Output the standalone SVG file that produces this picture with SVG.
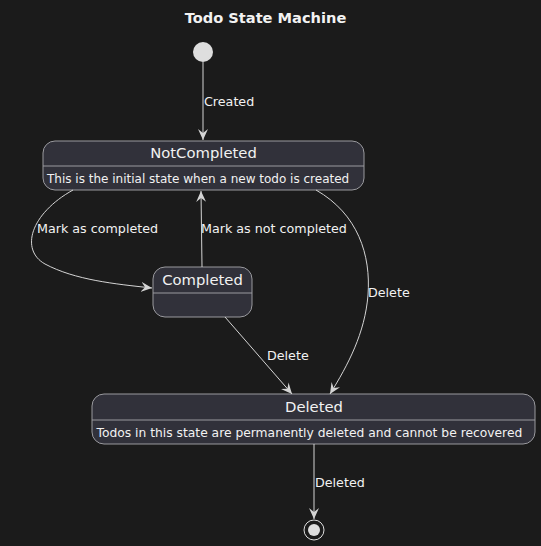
<svg xmlns="http://www.w3.org/2000/svg" width="541" height="546" viewBox="0 0 541 546">
<style>
text{font-family:"DejaVu Sans","Liberation Sans",sans-serif;fill:#f2f2f2}
.title{font-size:14.6px;font-weight:bold}
.name{font-size:14.8px}
.desc{font-size:12.3px}
.lbl{font-size:12.7px}
.box{fill:#31313a;stroke:#9a9a9e;stroke-width:1}
.sep{stroke:#9a9a9e;stroke-width:1}
.edge{fill:none;stroke:#d4d4d4;stroke-width:1}
</style>
<defs>
<marker id="arr" viewBox="0 0 12 10" markerWidth="12" markerHeight="10" refX="11" refY="5" orient="auto" markerUnits="userSpaceOnUse">
<path d="M0,0 L11,5 L0,10 L4,5 Z" fill="#d4d4d4"/>
</marker>
</defs>
<rect width="541" height="546" fill="#1b1b1b"/>
<text class="title" x="265.5" y="23" text-anchor="middle">Todo State Machine</text>
<g id="initial"><circle cx="203" cy="52" r="10" fill="#dedede"/></g>
<g id="NotCompleted">
<rect class="box" x="43" y="141" width="321" height="49" rx="12"/>
<line class="sep" x1="43" y1="166" x2="364" y2="166"/>
<text class="name" x="203.5" y="158" text-anchor="middle">NotCompleted</text>
<text class="desc" x="47" y="183" style="font-size:12px">This is the initial state when a new todo is created</text>
</g>
<g id="Completed">
<rect class="box" x="153" y="267" width="99" height="50" rx="12"/>
<line class="sep" x1="153" y1="293" x2="252" y2="293"/>
<text class="name" x="202.5" y="285" text-anchor="middle">Completed</text>
</g>
<g id="Deleted">
<rect class="box" x="92" y="394" width="443" height="50" rx="12"/>
<line class="sep" x1="92" y1="420" x2="535" y2="420"/>
<text class="name" x="314" y="412" text-anchor="middle">Deleted</text>
<text class="desc" x="96.5" y="437">Todos in this state are permanently deleted and cannot be recovered</text>
</g>
<g id="final">
<circle cx="314" cy="530" r="10" fill="none" stroke="#dedede" stroke-width="1"/>
<circle cx="314" cy="530" r="6" fill="#dedede"/>
</g>
<g id="connectors">
<path class="edge" d="M73,190 C30,214 20,250 45,264 C75,280 115,284 152,288" marker-end="url(#arr)"/>
<path class="edge" d="M203,62 L203,140" marker-end="url(#arr)"/>
<text class="lbl" x="204" y="106">Created</text>
<text class="lbl" x="37" y="233">Mark as completed</text>
<path class="edge" d="M202,267 L201,191" marker-end="url(#arr)"/>
<text class="lbl" x="201" y="233">Mark as not completed</text>
<path class="edge" d="M316,190 C358,214 371,255 368,295 C365,333 348,365 330,394" marker-end="url(#arr)"/>
<text class="lbl" x="368" y="297">Delete</text>
<path class="edge" d="M225,317 L292,394" marker-end="url(#arr)"/>
<text class="lbl" x="267" y="360">Delete</text>
<path class="edge" d="M314,444 L314,519" marker-end="url(#arr)"/>
<text class="lbl" x="315" y="487">Deleted</text>
</g>
</svg>
